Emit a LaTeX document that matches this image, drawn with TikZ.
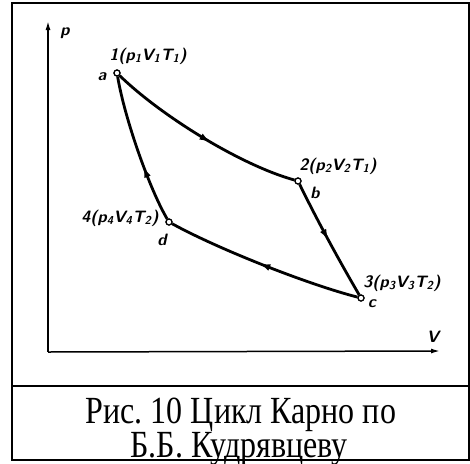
\documentclass[tikz,border=0pt]{standalone}
\usepackage{fontspec}
\usepackage{graphicx}
\setmainfont{Liberation Serif}
\usetikzlibrary{arrows.meta,decorations.markings}
\newcommand\lsub[1]{\textsubscript{#1}}
\frenchspacing
\tikzset{
  frame/.style={line width=2.4pt},
  axis/.style={line width=1.5pt,-{Latex[length=9pt,width=5pt]}},
  curve/.style={line width=2.8pt},
  midarrow/.style={postaction={decorate},decoration={markings,
     mark=at position #1 with {\arrow{Latex[length=11pt,width=7pt]}}}},
  pt/.style={circle,draw,fill=white,line width=1.2pt,inner sep=0pt,minimum size=6pt},
  lbl/.style={font=\sffamily\bfseries\itshape\fontsize{16.5}{18}\selectfont,inner sep=0pt},
  captext/.style={font=\fontsize{32}{35}\selectfont,inner sep=0pt}
}
\begin{document}
\begin{tikzpicture}[x=1pt,y=-1pt]
\useasboundingbox (0,0) rectangle (470,463);
\draw[frame] (12,3) rectangle (469,460);
\draw[frame] (12,386) -- (469,386);
% axes
\coordinate (O) at (48,352);
\coordinate (ptop) at (48,21);
\coordinate (vend) at (440,351);
\draw[axis] (O) -- (ptop);
\draw[axis] (O) -- (vend);
\node[lbl] (plab) at (65,33) {p};
\node[lbl] (vlab) at (433,337) {V};
% points
\node[pt] (a) at (117,73) {};
\node[pt] (b) at (298,181) {};
\node[pt] (c) at (361,298) {};
\node[pt] (d) at (169,222) {};
% curves
\draw[curve,midarrow=0.55] (a) .. controls (160,115) and (240,165) .. (b);
\draw[curve,midarrow=0.5] (b) .. controls (318,222) and (340,262) .. (c);
\draw[curve,midarrow=0.52] (c) .. controls (310,285) and (220,250) .. (d);
\draw[curve,midarrow=0.38] (d) .. controls (150,190) and (125,120) .. (a);
\node[pt] at (a) {};
\node[pt] at (b) {};
\node[pt] at (c) {};
\node[pt] at (d) {};
% labels
\node[lbl] (l1) at (148,56) {1(p\lsub{1}V\lsub{1}T\lsub{1})};
\node[lbl] (la) at (102,77) {a};
\node[lbl] (l2) at (338,166) {2(p\lsub{2}V\lsub{2}T\lsub{1})};
\node[lbl] (lb) at (315,193) {b};
\node[lbl] (l3) at (402,283) {3(p\lsub{3}V\lsub{3}T\lsub{2})};
\node[lbl] (lc) at (372,304) {c};
\node[lbl] (l4) at (120,218) {4(p\lsub{4}V\lsub{4}T\lsub{2})};
\node[lbl] (ld) at (162,240) {d};
% caption
\node[captext,anchor=base] (cap1) at (241,423) {\scalebox{1}[1.2]{Рис. 10 Цикл Карно по}};
\node[captext,anchor=base] (cap2) at (239,457) {\scalebox{1}[1.2]{Б.Б. Кудрявцеву}};
\end{tikzpicture}
\end{document}
